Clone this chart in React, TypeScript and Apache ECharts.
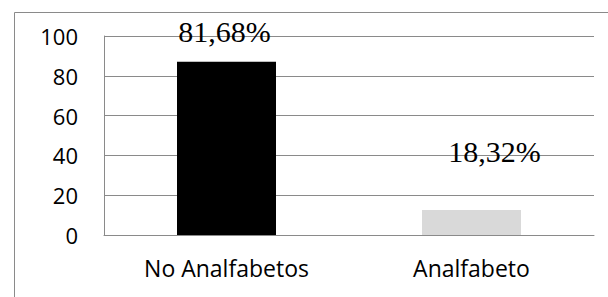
import React, { useEffect, useRef } from "react";
import * as echarts from "echarts";

const categories = ["No Analfabetos", "Analfabeto"];
const values = [87, 12.6];
const labels = ["81,68%", "18,32%"];
const barColors = ["#000000", "#d9d9d9"];
const yTicks = { min: 0, max: 100, interval: 20 };

export default function App() {
  const ref = useRef<HTMLDivElement>(null);
  useEffect(() => {
    if (!ref.current) return;
    const chart = echarts.init(ref.current, null, { renderer: "svg" });
    const labelOffsets = [[-2, -15], [23, -43]];
    chart.setOption({
      animation: false,
      backgroundColor: "#ffffff",
      graphic: [
        {
          type: "rect",
          left: 12,
          top: 10,
          shape: { width: 700, height: 400 },
          style: { fill: "none", stroke: "#8a8a8a", lineWidth: 1 },
          silent: true,
        },
      ],
      grid: { left: 104, right: 14, top: 36, bottom: 62, containLabel: false },
      xAxis: {
        type: "category",
        data: categories,
        axisLine: { show: true, lineStyle: { color: "#8a8a8a", width: 1 } },
        axisTick: { show: false },
        axisLabel: {
          color: "#000",
          fontFamily: "Open Sans",
          fontSize: 23,
          margin: 21,
        },
      },
      yAxis: {
        type: "value",
        min: yTicks.min,
        max: yTicks.max,
        interval: yTicks.interval,
        axisLine: { show: true, lineStyle: { color: "#8a8a8a", width: 1 } },
        axisTick: { show: false },
        splitLine: { lineStyle: { color: "#8a8a8a", width: 1 } },
        axisLabel: {
          color: "#000",
          fontFamily: "Open Sans",
          fontSize: 22,
          margin: 26,
        },
      },
      series: [
        {
          type: "bar",
          barWidth: 99,
          data: values.map((v, i) => ({
            value: v,
            itemStyle: { color: barColors[i] },
            label: {
              show: true,
              position: "top",
              distance: 0,
              offset: labelOffsets[i],
              formatter: () => labels[i],
              color: "#000",
              fontFamily: "Liberation Serif",
              fontSize: 30,
            },
          })),
        },
      ],
    });
    return () => chart.dispose();
  }, []);
  return (
    <div
      ref={ref}
      style={{ position: "fixed", left: 0, top: 0, width: 608, height: 297 }}
    />
  );
}
